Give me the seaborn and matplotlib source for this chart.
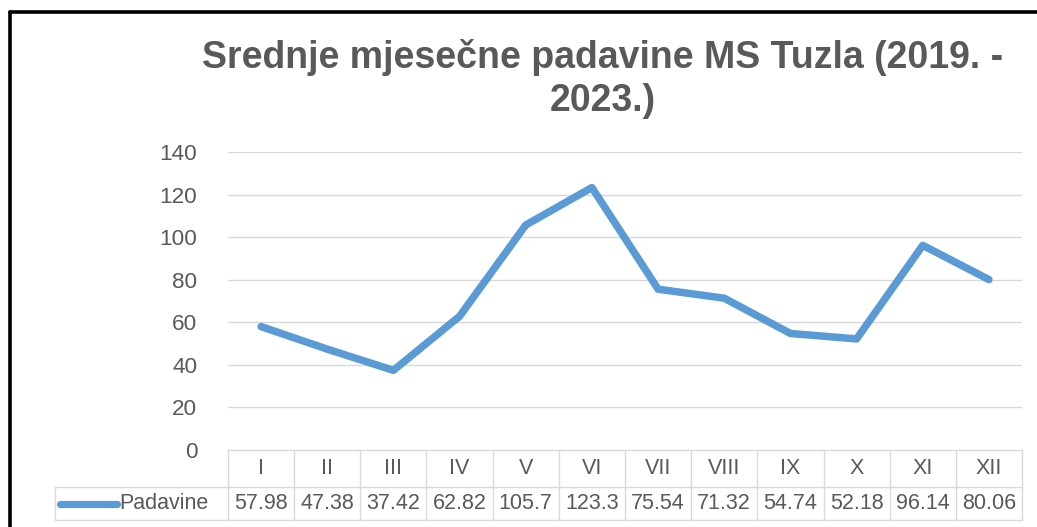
import matplotlib
matplotlib.use("Agg")
import matplotlib.pyplot as plt
import matplotlib.lines as mlines
import seaborn as sns
import pandas as pd

months = ["I", "II", "III", "IV", "V", "VI", "VII", "VIII", "IX", "X", "XI", "XII"]
padavine = [57.98, 47.38, 37.42, 62.82, 105.7, 123.3, 75.54, 71.32, 54.74, 52.18, 96.14, 80.06]
value_labels = ["57.98", "47.38", "37.42", "62.82", "105.7", "123.3", "75.54", "71.32", "54.74", "52.18", "96.14", "80.06"]
series_name = "Padavine"
title = "Srednje mjesečne padavine MS Tuzla (2019. -\n2023.)"
yticks = [0, 20, 40, 60, 80, 100, 120, 140]

sns.set_theme(style="white")
plt.rcParams['font.family'] = ['Liberation Sans', 'DejaVu Sans']

TXT = "#595959"
GRID = "#D9D9D9"
BLUE = "#5B9BD5"

W, H = 1037, 527
fig = plt.figure(figsize=(W / 100, H / 100), dpi=100)
x0, x1, ytop, ybot = 228, 1022, 152, 450
ax = fig.add_axes([x0 / W, (H - ybot) / H, (x1 - x0) / W, (ybot - ytop) / H])

df = pd.DataFrame({"pos": range(len(months)), "val": padavine})
sns.lineplot(data=df, x="pos", y="val", ax=ax, color=BLUE, linewidth=5.4,
             solid_joinstyle="round", solid_capstyle="round")

ax.set_xlim(-0.5, len(months) - 0.5)
ax.set_ylim(0, 140)
ax.set_yticks(yticks)
ax.set_yticklabels([str(v) for v in yticks], color=TXT, fontsize=16.2)
ax.tick_params(axis="y", length=0, pad=22)
ax.set_xticks([])
ax.set_xlabel("")
ax.set_ylabel("")
for s in ["top", "right", "left"]:
    ax.spines[s].set_visible(False)
ax.spines["bottom"].set_color(GRID)
ax.spines["bottom"].set_linewidth(1)
for v in yticks[1:]:
    ax.axhline(v, color=GRID, linewidth=1, zorder=0)

# data table below the axes
def ay(py):
    return (ybot - py) / (ybot - ytop)

tr = ax.get_xaxis_transform()
row_mid, row_bot = ay(487), ay(520)
n = len(months)
for i in range(n + 1):
    ax.add_line(mlines.Line2D([i - 0.5, i - 0.5], [0, row_bot], transform=tr,
                              color=GRID, linewidth=1, clip_on=False))
lab_left = (55 - x0) / (x1 - x0)
ta = ax.transAxes
for yy in (row_mid, row_bot):
    ax.add_line(mlines.Line2D([lab_left, 1], [yy, yy], transform=ta,
                              color=GRID, linewidth=1, clip_on=False))
ax.add_line(mlines.Line2D([lab_left, lab_left], [row_mid, row_bot], transform=ta,
                          color=GRID, linewidth=1, clip_on=False))
for i, m in enumerate(months):
    ax.text(i, (ay(452) + ay(487)) / 2 + 0.003, m, transform=tr, ha="center", va="center",
            color=TXT, fontsize=15.5, clip_on=False)
    ax.text(i, (row_mid + row_bot) / 2, value_labels[i], transform=tr, ha="center", va="center",
            color=TXT, fontsize=15.5, clip_on=False)
ymid = (row_mid + row_bot) / 2
ax.add_line(mlines.Line2D([(60 - x0) / (x1 - x0), (117 - x0) / (x1 - x0)], [ymid, ymid],
                          transform=ta, color=BLUE, linewidth=5.2, solid_capstyle="round",
                          clip_on=False))
ax.text((119 - x0) / (x1 - x0), ymid, series_name, transform=ta, ha="left", va="center",
        color=TXT, fontsize=15.5, clip_on=False)

fig.text(603 / W, 1 - 79 / H, title, ha="center", va="center", fontsize=27,
         fontweight="bold", color=TXT, linespacing=1.25)

# outer frame (top and left edges visible)
fig.add_artist(mlines.Line2D([9.5 / W, 1], [1 - 12 / H, 1 - 12 / H], transform=fig.transFigure,
                             color="black", linewidth=2.6))
fig.add_artist(mlines.Line2D([9.5 / W, 9.5 / W], [0, 1 - 12 / H], transform=fig.transFigure,
                             color="black", linewidth=2.6))

fig.savefig("out.png", dpi=100, facecolor="white")
